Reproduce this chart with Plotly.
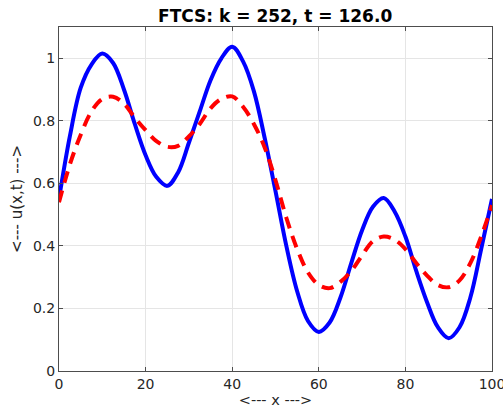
import plotly.graph_objects as go

x_vals = [0, 2.5, 5, 7.5, 10, 12.5, 15, 17.5, 20, 22.5, 25, 27.5, 30, 32.5, 35, 37.5, 40,
          42.5, 45, 47.5, 50, 52.5, 55, 57.5, 60, 62.5, 65, 67.5, 70, 72.5, 75, 77.5, 80,
          82.5, 85, 87.5, 90, 92.5, 95, 97.5, 100]

u_blue = [0.55, 0.75, 0.905, 0.98, 1.015, 0.985, 0.90, 0.79, 0.69, 0.62, 0.592, 0.635, 0.73,
          0.83, 0.93, 1.0, 1.037, 0.99, 0.895, 0.745, 0.575, 0.40, 0.255, 0.16, 0.125, 0.155,
          0.235, 0.345, 0.45, 0.525, 0.553, 0.51, 0.43, 0.32, 0.22, 0.14, 0.105, 0.14, 0.235,
          0.39, 0.55]

u_red = [0.54, 0.66, 0.755, 0.83, 0.87, 0.877, 0.855, 0.81, 0.77, 0.735, 0.717, 0.72, 0.75,
         0.79, 0.84, 0.87, 0.878, 0.845, 0.79, 0.715, 0.61, 0.49, 0.39, 0.315, 0.275, 0.265,
         0.285, 0.32, 0.37, 0.415, 0.43, 0.42, 0.39, 0.345, 0.305, 0.275, 0.268, 0.29, 0.345,
         0.43, 0.53]

x_ticks = [0, 20, 40, 60, 80, 100]
y_ticks = [0, 0.2, 0.4, 0.6, 0.8, 1]

font_family = "DejaVu Sans, sans-serif"
text_color = "#262626"

fig = go.Figure()
fig.add_trace(go.Scatter(x=x_vals, y=u_blue, mode="lines",
                         line=dict(color="#0000ff", width=4, shape="spline", smoothing=1.0),
                         showlegend=False))
fig.add_trace(go.Scatter(x=x_vals, y=u_red, mode="lines",
                         line=dict(color="#ff0000", width=4, dash="12px,8px", shape="spline", smoothing=1.0),
                         showlegend=False))

axis_common = dict(
    showgrid=True, gridcolor="#e5e5e5", gridwidth=1,
    showline=True, linecolor="#4d4d4d", linewidth=1, mirror="ticks",
    ticks="inside", ticklen=4, tickcolor="#4d4d4d",
    zeroline=False, automargin=False, ticklabeloverflow="allow",
    tickfont=dict(family=font_family, size=14, color=text_color),
)

fig.update_layout(
    width=503, height=413,
    margin=dict(l=59, r=11, t=27, b=42, autoexpand=False),
    paper_bgcolor="white", plot_bgcolor="white",
    title=dict(text="<b>FTCS: k = 252, t = 126.0</b>", x=0.547, xanchor="center",
               y=0.962, yanchor="middle",
               font=dict(family=font_family, size=17, color="#000000")),
    xaxis=dict(range=[0, 100], tickvals=x_ticks, ticktext=[str(v) for v in x_ticks],
               title=dict(text="<--- x --->", font=dict(family=font_family, size=14.5, color=text_color), standoff=4),
               **axis_common),
    yaxis=dict(range=[0, 1.1], tickvals=y_ticks, ticktext=["0", "0.2", "0.4", "0.6", "0.8", "1"],
               title=dict(text="<--- u(x,t) --->", font=dict(family=font_family, size=15, color=text_color), standoff=6),
               **axis_common),
)

fig.write_html("out.html",
               config={"displayModeBar": False},
               post_script="document.body.style.margin='0';document.body.style.overflow='hidden';")
